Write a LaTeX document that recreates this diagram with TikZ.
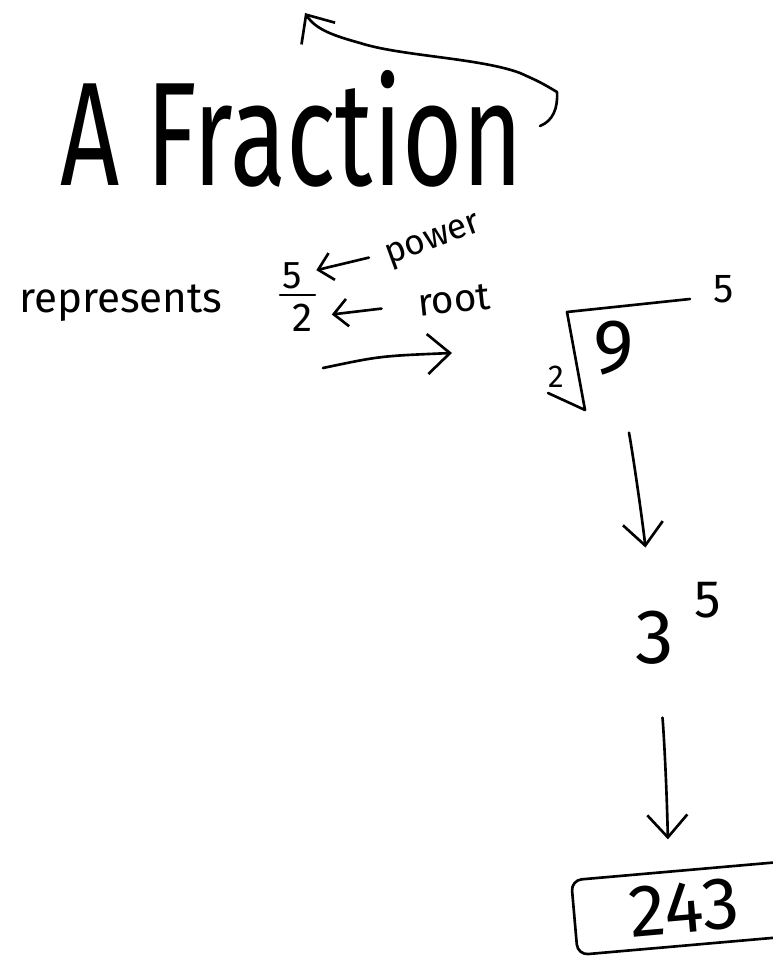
\documentclass[tikz,border=0pt]{standalone}
\usepackage{fontspec}
\setmainfont{Fira Sans}
\usetikzlibrary{positioning,arrows.meta}
\tikzset{
  hand/.style={line width=1.5pt,line cap=round,line join=round},
  bigarr/.style={hand,-{Straight Barb[length=4.5mm,width=8mm,line width=1.5pt]}},
  smallarr/.style={hand,-{Straight Barb[length=2.8mm,width=5.5mm,line width=1.5pt]}},
  txt/.style={inner sep=1pt},
  resbox/.style={draw,hand,rounded corners=6pt,inner sep=0pt,
    minimum width=4.4cm,minimum height=1.5cm},
}
\newcommand{\fsz}[1]{\fontsize{#1}{#1}\selectfont}

\begin{document}
\begin{tikzpicture}[x=0.02cm,y=-0.02cm]
  \useasboundingbox (0,0) rectangle (773,956);
  \clip (0,0) rectangle (773,956);
  % title with its curled arrow
  \node[txt,anchor=base west] (title) at (58,186) {\fsz{84}\scalebox{0.7}[1]{A Fraction}};
  \coordinate (hook) at (540,126);
  \coordinate (tip) at (305,13);
  \draw[bigarr] (hook) .. controls (553,121) and (558,108) .. (557,92)
    .. controls (540,82) .. (520,73) .. controls (480,58) and (400,56) .. (360,43)
    .. controls (335,36) and (316,30) .. (tip);
  % the fraction and what its parts mean
  \node[txt,anchor=base west] (repr) at (17,312) {\fsz{24}represents};
  \node[txt] (num) at (292,276) {\fsz{22}5};
  \node[txt] (den) at (302,318) {\fsz{23}2};
  \draw[hand] (280,295) -- (315,295);
  \node[txt,rotate=20] (pow) at (434,242) {\fsz{20}power};
  \node[txt,rotate=6] (rootlbl) at (454,300) {\fsz{22}root};
  \draw[smallarr,shorten <=1.34cm,shorten >=0.5cm] (pow.center) -- (num.center);
  \draw[smallarr,shorten <=1.46cm,shorten >=0.6cm] (rootlbl.center) -- (den.center);
  \coordinate (lstart) at (323,368);
  \coordinate (lend) at (452,353);
  \draw[bigarr] (lstart) .. controls (380,356) .. (lend);
  % square root of 9, to the fifth
  \node[txt] (nine) at (614,348) {\fsz{44}9};
  \node[txt] (idx) at (556,377) {\fsz{18}2};
  \node[txt] (ninexp) at (724,289) {\fsz{23}5};
  \draw[hand] (548,393) -- (585,410) -- (567,312) -- (690,299);
  % steps down to the result
  \node[txt] (three) at (655,638) {\fsz{44}3};
  \node[txt] (threexp) at (708,600) {\fsz{30}5};
  \node[resbox,rotate=5] (result) at (684,908) {\fsz{42}243};
  \draw[bigarr,shorten <=1.72cm,shorten >=1.82cm] (nine.center) to[bend left=2] (three.center);
  \draw[bigarr,shorten <=1.6cm,shorten >=0.6cm] (three.center) to[bend left=2] ([shift={(-12,0)}]result.north);
\end{tikzpicture}
\end{document}
